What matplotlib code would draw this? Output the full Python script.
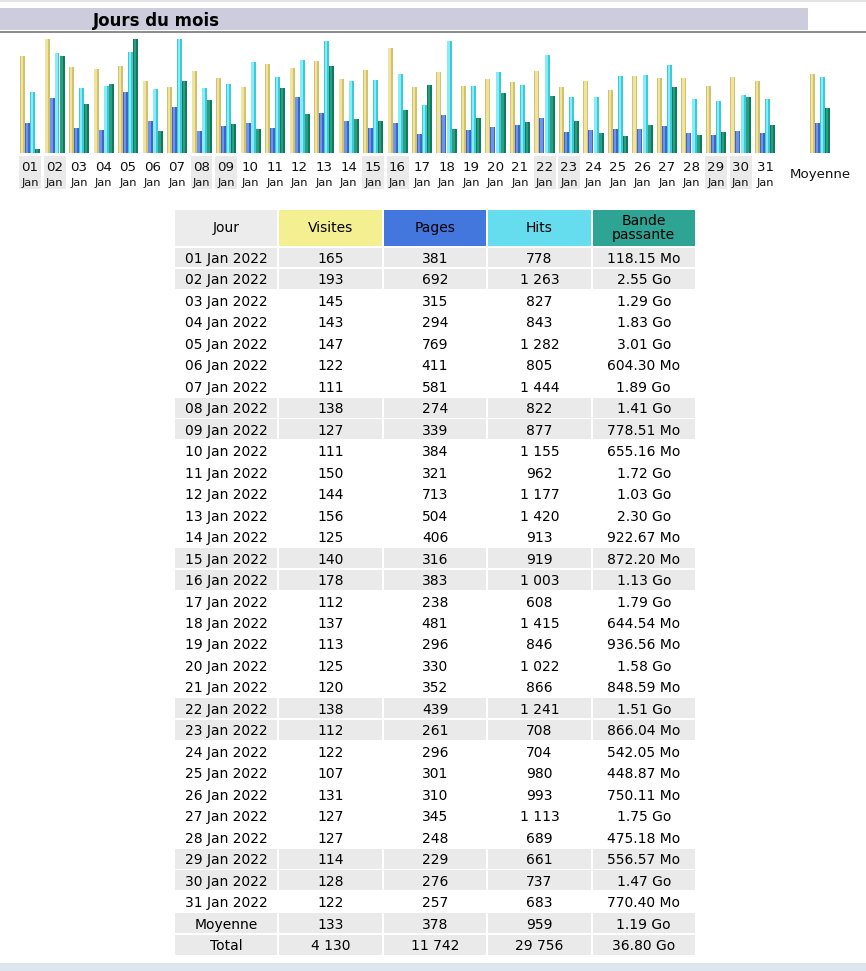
import matplotlib
matplotlib.use("Agg")
import matplotlib.pyplot as plt
from matplotlib.patches import Rectangle
import numpy as np

# ---------------- data ----------------
days = ["01", "02", "03", "04", "05", "06", "07", "08", "09", "10", "11", "12", "13", "14", "15", "16",
        "17", "18", "19", "20", "21", "22", "23", "24", "25", "26", "27", "28", "29", "30", "31"]
month_label = "Jan"
weekend_days = ["01", "02", "08", "09", "15", "16", "22", "23", "29", "30"]
visits = [165, 193, 145, 143, 147, 122, 111, 138, 127, 111, 150, 144, 156, 125, 140, 178,
          112, 137, 113, 125, 120, 138, 112, 122, 107, 131, 127, 127, 114, 128, 122]
pages = [381, 692, 315, 294, 769, 411, 581, 274, 339, 384, 321, 713, 504, 406, 316, 383,
         238, 481, 296, 330, 352, 439, 261, 296, 301, 310, 345, 248, 229, 276, 257]
hits = [778, 1263, 827, 843, 1282, 805, 1444, 822, 877, 1155, 962, 1177, 1420, 913, 919, 1003,
        608, 1415, 846, 1022, 866, 1241, 708, 704, 980, 993, 1113, 689, 661, 737, 683]
bandwidth = ["118.15 Mo", "2.55 Go", "1.29 Go", "1.83 Go", "3.01 Go", "604.30 Mo", "1.89 Go",
             "1.41 Go", "778.51 Mo", "655.16 Mo", "1.72 Go", "1.03 Go", "2.30 Go", "922.67 Mo",
             "872.20 Mo", "1.13 Go", "1.79 Go", "644.54 Mo", "936.56 Mo", "1.58 Go", "848.59 Mo",
             "1.51 Go", "866.04 Mo", "542.05 Mo", "448.87 Mo", "750.11 Mo", "1.75 Go", "475.18 Mo",
             "556.57 Mo", "1.47 Go", "770.40 Mo"]
avg_label = "Moyenne"
avg_visits, avg_pages, avg_hits, avg_bw = 133, 378, 959, "1.19 Go"
total_label = "Total"
tot_visits, tot_pages, tot_hits, tot_bw = 4130, 11742, 29756, "36.80 Go"
year = "2022"
col_headers = ["Jour", "Visites", "Pages", "Hits", "Bande\npassante"]
title = "Jours du mois"

# ---------------- helpers ----------------
def to_mo(s):
    v, u = s.split()
    return float(v) * (1024.0 if u == "Go" else 1.0)

def fmt(n):
    return f"{n:,}".replace(",", " ")

W, H = 866, 971
fig = plt.figure(figsize=(W / 100, H / 100), dpi=100)
plt.rcParams['font.family'] = ['DejaVu Sans']

def px_axes(x0, y0, x1, y1):
    return fig.add_axes([x0 / W, 1 - y1 / H, (x1 - x0) / W, (y1 - y0) / H])

# background / page decorations
bg = px_axes(0, 0, W, H)
bg.set_xlim(0, W); bg.set_ylim(H, 0); bg.axis("off")
bg.add_patch(Rectangle((0, 0.5), W, 1.5, color="#E4E4E4", lw=0))
bg.add_patch(Rectangle((0, 8), 808, 22.5, color="#CCCCDD", lw=0))
bg.add_patch(Rectangle((0, 31.5), W, 1.6, color="#8C8C8C", lw=0))
bg.text(93, 19.5, title, fontsize=12, fontweight="bold", color="#000000",
        ha="left", va="center_baseline")
bg.add_patch(Rectangle((0, 963), W, 8, color="#DDE5EE", lw=0))

# ---------------- bar chart ----------------
pitch = 24.5          # px per day
unit = 114.0          # px for full height
base_px = 153.0
first_center_px = 30.0
ax = px_axes(0, 33, W, 195)
ax.set_xlim(1 - first_center_px / pitch, 1 + (W - first_center_px) / pitch)
ax.set_ylim(-(195 - base_px) / unit, (base_px - 33) / unit)
ax.axis("off")

v_arr = np.array(visits, float)
p_arr = np.array(pages, float)
h_arr = np.array(hits, float)
b_arr = np.array([to_mo(b) for b in bandwidth])
# visits own scale, pages & hits share the hits scale, bandwidth own scale
scales = [v_arr.max(), h_arr.max(), h_arr.max(), b_arr.max()]
series = [v_arr, p_arr, h_arr, b_arr]
avgs = [avg_visits, avg_pages, avg_hits, to_mo(avg_bw)]
base_cols = ["#D4C26A", "#3D65CC", "#3CCADB", "#0F7A5C"]
hi_cols = ["#EEE3A0", "#6E93EA", "#86EDF7", "#2B9E80"]
bw_w = 5.0 / pitch
x_days = np.arange(1, len(days) + 1)
x_avg = 1 + (820 - first_center_px) / pitch
for k, (vals, av, m) in enumerate(zip(series, avgs, scales)):
    xs = np.append(x_days, x_avg) + (k - 1.5) * bw_w
    hs = np.append(vals, av) / m
    ax.bar(xs, hs, width=bw_w, color=base_cols[k], lw=0)
    ax.bar(xs - 0.12 * bw_w, hs, width=0.5 * bw_w, color=hi_cols[k], lw=0)

for i, d in enumerate(days):
    xc = x_days[i]
    if d in weekend_days:
        ax.add_patch(Rectangle((xc - 11 / pitch, -(189 - base_px) / unit), 22 / pitch, 33 / unit,
                               color="#EAEAEA", lw=0))
    ax.text(xc, -(166 - base_px) / unit, d, fontsize=9.6, ha="center", va="center_baseline", color="#111111")
    ax.text(xc, -(181.5 - base_px) / unit, month_label, fontsize=8.2, ha="center", va="center_baseline",
            color="#111111")
ax.text(x_avg, -(173 - base_px) / unit, avg_label, fontsize=9.6, ha="center", va="center_baseline",
        color="#111111")

# ---------------- table ----------------
row_px = 21.47
tx0, tx1 = 175, 697
ty0 = 210
row0_px = 247.5
nrows = len(days) + 2
ty1 = row0_px + nrows * row_px
tab = px_axes(tx0, ty0, tx1, ty1)
ncol = 5
tab.set_xlim(0, ncol)
tab.set_ylim(nrows, -(row0_px - ty0) / row_px)
tab.axis("off")
colw_px = (tx1 - tx0) / ncol
gx = 2.0 / colw_px
gy = 1.5 / row_px

head_cols = ["#ECECEC", "#F4F091", "#4477DD", "#66DDEE", "#2EA495"]
hy0 = -(row0_px - ty0) / row_px
hy1 = -1.5 / row_px
for c in range(ncol):
    tab.add_patch(Rectangle((c, hy0), 1 - gx, hy1 - hy0, color=head_cols[c], lw=0))
    tab.text(c + (1 - gx) / 2, (hy0 + hy1) / 2, col_headers[c], fontsize=10, ha="center",
             va="center", color="#000000", linespacing=1.0)

rows = []
for i, d in enumerate(days):
    rows.append(([f"{d} {month_label} {year}", fmt(visits[i]), fmt(pages[i]), fmt(hits[i]), bandwidth[i]],
                 d in weekend_days))
rows.append(([avg_label, fmt(avg_visits), fmt(avg_pages), fmt(avg_hits), avg_bw], True))
rows.append(([total_label, fmt(tot_visits), fmt(tot_pages), fmt(tot_hits), tot_bw], True))

for r, (cells, shaded) in enumerate(rows):
    for c in range(ncol):
        if shaded:
            tab.add_patch(Rectangle((c, r), 1 - gx, 1 - gy, color="#EAEAEA", lw=0))
        tab.text(c + (1 - gx) / 2, r + (1 - gy) / 2, cells[c], fontsize=10, ha="center",
                 va="center_baseline", color="#000000")

fig.savefig("out.png", dpi=100)
